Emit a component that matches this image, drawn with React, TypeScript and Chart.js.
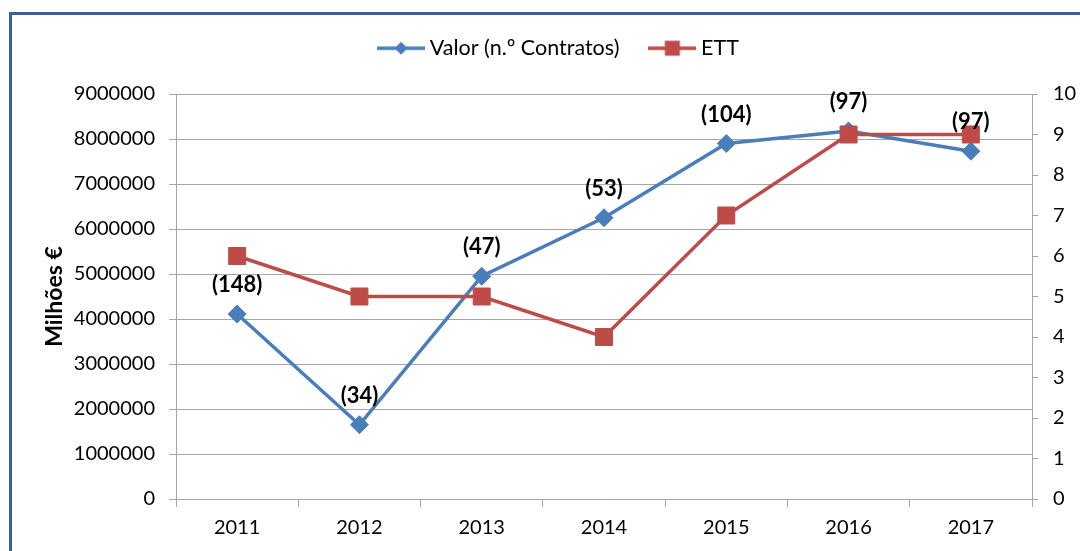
import React, { useEffect, useRef } from 'react';
import { Chart, registerables } from 'chart.js';

Chart.register(...registerables);

const categories = ['2011', '2012', '2013', '2014', '2015', '2016', '2017'];
const valorSeries = [4110000, 1650000, 4950000, 6250000, 7900000, 8180000, 7730000];
const ettSeries = [6, 5, 5, 4, 7, 9, 9];
const contratosLabels = ['(148)', '(34)', '(47)', '(53)', '(104)', '(97)', '(97)'];
const seriesNames = ['Valor (n.º Contratos)', 'ETT'];
const yTitle = 'Milhões €';

const BLUE = '#4A7EBB';
const RED = '#BE4B48';
const GRID = '#A6A6A6';
const FONT = 'Lato';

function makeLegendImage(kind: 'diamond' | 'square'): HTMLCanvasElement {
  const c = document.createElement('canvas');
  c.width = 48;
  c.height = 18;
  const ctx = c.getContext('2d')!;
  ctx.strokeStyle = kind === 'diamond' ? BLUE : RED;
  ctx.fillStyle = kind === 'diamond' ? BLUE : RED;
  ctx.lineWidth = 3.5;
  ctx.beginPath();
  ctx.moveTo(0, 9);
  ctx.lineTo(48, 9);
  ctx.stroke();
  ctx.beginPath();
  if (kind === 'diamond') {
    ctx.moveTo(24, 2.5);
    ctx.lineTo(30.5, 9);
    ctx.lineTo(24, 15.5);
    ctx.lineTo(17.5, 9);
    ctx.closePath();
  } else {
    ctx.rect(16.5, 1.5, 15, 15);
  }
  ctx.fill();
  return c;
}

const legendShift = {
  id: 'legendShift',
  afterLayout(chart: any) {
    const l = chart.legend;
    if (!l) return;
    const dy = -25;
    const dx = 21;
    l.top += dy;
    l.bottom += dy;
    l.left += dx;
    l.right += dx;
  },
};

const contratosLabelPlugin = {
  id: 'contratosLabels',
  afterDatasetsDraw(chart: any) {
    const meta = chart.getDatasetMeta(0);
    const ctx = chart.ctx;
    ctx.save();
    ctx.font = `bold 22px ${FONT}`;
    ctx.fillStyle = '#000';
    ctx.textAlign = 'center';
    ctx.textBaseline = 'middle';
    meta.data.forEach((el: any, i: number) => {
      ctx.fillText(contratosLabels[i], el.x, el.y - 29);
    });
    ctx.restore();
  },
};

export default function App() {
  const ref = useRef<HTMLCanvasElement | null>(null);

  useEffect(() => {
    if (!ref.current) return;
    const imgs = [makeLegendImage('diamond'), makeLegendImage('square')];
    const tickFont = { family: FONT, size: 20 };
    const chart = new Chart(ref.current, {
      type: 'line',
      data: {
        labels: categories,
        datasets: [
          {
            label: seriesNames[0],
            data: valorSeries,
            yAxisID: 'y',
            borderColor: BLUE,
            backgroundColor: BLUE,
            borderWidth: 3.5,
            pointStyle: 'rectRot',
            pointRadius: 9,
            pointBorderWidth: 1,
            pointBackgroundColor: BLUE,
            pointBorderColor: BLUE,
            tension: 0,
            order: 2,
          },
          {
            label: seriesNames[1],
            data: ettSeries,
            yAxisID: 'y1',
            borderColor: RED,
            backgroundColor: RED,
            borderWidth: 3.5,
            pointStyle: 'rect',
            pointRadius: 12,
            pointBorderWidth: 1,
            pointBackgroundColor: RED,
            pointBorderColor: RED,
            tension: 0,
            order: 1,
          },
        ],
      },
      options: {
        responsive: false,
        animation: false,
        layout: { padding: { top: 27.5, left: 0, right: 0, bottom: 0 } },
        plugins: {
          legend: {
            position: 'top',
            labels: {
              usePointStyle: true,
              pointStyleWidth: 36,
              padding: 35,
              color: '#000',
              font: { family: FONT, size: 21.5 },
              generateLabels: (chart: any) => {
                const base = Chart.defaults.plugins.legend.labels.generateLabels(chart);
                return base
                  .map((it: any) => ({ ...it, pointStyle: imgs[it.datasetIndex] }))
                  .sort((a: any, b: any) => a.datasetIndex - b.datasetIndex);
              },
            },
          },
          tooltip: { enabled: false },
        },
        scales: {
          x: {
            type: 'category',
            offset: true,
            grid: { offset: true, drawOnChartArea: false, tickLength: 8, color: GRID, lineWidth: 1 },
            border: { color: GRID },
            ticks: { font: tickFont, color: '#000', padding: 9, maxRotation: 0 },
            afterFit: (s: any) => {
              s.height = 52;
            },
          },
          y: {
            position: 'left',
            min: 0,
            max: 9000000,
            ticks: {
              stepSize: 1000000,
              font: tickFont,
              color: '#000',
              padding: 14,
              callback: (v: any) => String(v),
            },
            grid: { color: GRID, tickLength: 7, lineWidth: 1 },
            border: { color: GRID },
            title: {
              display: true,
              text: yTitle,
              color: '#000',
              font: { family: FONT, size: 23, weight: 'bold' },
              padding: { top: 40.7, bottom: 0 },
            },
            afterFit: (s: any) => {
              s.width = 176;
            },
          },
          y1: {
            position: 'right',
            min: 0,
            max: 10,
            ticks: { stepSize: 1, font: tickFont, color: '#000', padding: 15 },
            grid: { drawOnChartArea: false, color: GRID, tickLength: 6 },
            border: { color: GRID },
            afterFit: (s: any) => {
              s.width = 48;
            },
          },
        },
      },
      plugins: [legendShift, contratosLabelPlugin],
    });
    return () => chart.destroy();
  }, []);

  return (
    <div
      style={{
        position: 'fixed',
        left: 0,
        top: 0,
        width: 1080,
        height: 551,
        overflow: 'hidden',
        background: '#fff',
      }}
    >
      <canvas ref={ref} width={1080} height={551} style={{ position: 'absolute', left: 0, top: 0 }} />
      <div
        style={{
          position: 'absolute',
          left: 9,
          top: 12,
          width: 1200,
          height: 700,
          borderLeft: '3px solid #3A6095',
          borderTop: '3px solid #3A6095',
          pointerEvents: 'none',
        }}
      />
    </div>
  );
}
